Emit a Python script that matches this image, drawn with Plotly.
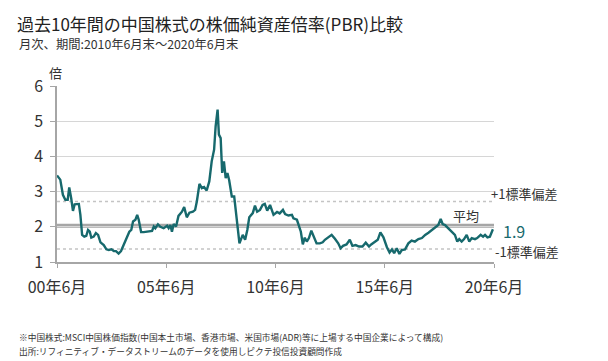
import plotly.graph_objects as go

# ---- data ----
years = [
    2000.50, 2000.65, 2000.77, 2000.88, 2000.99, 2001.06, 2001.15, 2001.23, 2001.31, 2001.42,
    2001.50, 2001.57, 2001.65, 2001.75, 2001.84, 2001.92, 2002.00, 2002.07, 2002.18, 2002.28,
    2002.38, 2002.49, 2002.64, 2002.76, 2002.87, 2002.99, 2003.10, 2003.20, 2003.32, 2003.43,
    2003.55, 2003.66, 2003.81, 2003.90, 2003.98, 2004.09, 2004.17, 2004.24, 2004.35, 2004.47,
    2004.62, 2004.77, 2004.85, 2004.93, 2005.00, 2005.12, 2005.23,
    2005.38, 2005.54, 2005.61, 2005.69, 2005.76, 2005.84, 2005.95, 2006.06, 2006.22, 2006.32,
    2006.44, 2006.56, 2006.72, 2006.82, 2006.90, 2007.02, 2007.13, 2007.23, 2007.35, 2007.47,
    2007.58, 2007.69, 2007.76, 2007.85, 2007.91, 2007.99, 2008.06, 2008.14, 2008.22, 2008.30,
    2008.38, 2008.50, 2008.61, 2008.73, 2008.85, 2009.00, 2009.11, 2009.21, 2009.30, 2009.46,
    2009.56, 2009.66, 2009.79, 2009.91, 2010.01, 2010.12, 2010.25,
    2010.41, 2010.57, 2010.69, 2010.84, 2010.94, 2011.09, 2011.25, 2011.32, 2011.48, 2011.59,
    2011.66, 2011.75, 2011.84, 2011.93, 2012.03, 2012.14, 2012.23, 2012.38, 2012.53, 2012.66,
    2012.76, 2012.91, 2013.07, 2013.22, 2013.37, 2013.48, 2013.59, 2013.75, 2013.90, 2014.02,
    2014.17, 2014.32, 2014.48, 2014.63, 2014.78, 2014.88, 2015.03, 2015.18, 2015.30,
    2015.44, 2015.60, 2015.72, 2015.83, 2015.93, 2016.05, 2016.17, 2016.28, 2016.43, 2016.58,
    2016.73, 2016.88, 2017.04, 2017.20, 2017.35, 2017.50, 2017.65, 2017.80, 2017.95, 2018.06,
    2018.15, 2018.26, 2018.41, 2018.56, 2018.71, 2018.82, 2018.91, 2019.02, 2019.13, 2019.25,
    2019.37, 2019.48, 2019.63, 2019.73, 2019.89, 2020.00, 2020.09, 2020.20, 2020.31, 2020.45,
]
pbr = [
    3.46, 3.34, 2.91, 2.77, 2.77, 3.12, 2.81, 2.45, 2.64, 2.65,
    2.65, 2.34, 1.77, 1.72, 1.74, 1.91, 1.86, 1.69, 1.72, 1.82,
    1.77, 1.56, 1.48, 1.36, 1.34, 1.36, 1.31, 1.31, 1.24, 1.31,
    1.48, 1.63, 1.86, 1.91, 2.15, 2.20, 2.34, 2.20, 1.85, 1.85,
    1.86, 1.86, 1.88, 2.01, 1.96, 2.07, 2.00,
    1.96, 2.03, 1.96, 2.05, 1.86, 2.08, 2.01, 2.31, 2.43, 2.56,
    2.27, 2.40, 2.43, 2.48, 2.72, 3.22, 3.10, 3.13, 3.03, 3.29,
    3.86, 4.19, 4.85, 5.33, 4.62, 4.52, 3.53, 3.86, 3.38, 3.53,
    3.32, 2.86, 2.86, 2.20, 1.53, 1.77, 1.63, 1.91, 2.27, 2.39,
    2.60, 2.43, 2.48, 2.62, 2.65, 2.46, 2.62,
    2.34, 2.42, 2.38, 2.48, 2.36, 2.32, 2.34, 2.24, 2.20, 2.01,
    1.86, 1.50, 1.69, 1.58, 1.68, 1.89, 1.77, 1.53, 1.53, 1.56,
    1.63, 1.69, 1.77, 1.66, 1.53, 1.39, 1.46, 1.50, 1.63, 1.46,
    1.48, 1.44, 1.44, 1.55, 1.44, 1.50, 1.56, 1.63, 1.84,
    1.70, 1.42, 1.27, 1.36, 1.25, 1.39, 1.23, 1.34, 1.36, 1.53,
    1.61, 1.58, 1.65, 1.68, 1.77, 1.83, 1.91, 1.99, 2.05, 2.22,
    2.08, 2.05, 1.96, 1.86, 1.77, 1.58, 1.65, 1.58, 1.65, 1.77,
    1.58, 1.68, 1.65, 1.68, 1.77, 1.72, 1.77, 1.70, 1.72, 1.93,
]
avg_value = 2.03
plus_sd = 2.72
minus_sd = 1.37
last_label = "1.9"

x_tickvals = [2000.5, 2005.5, 2010.5, 2015.5, 2020.5]
x_ticktext = ["00年6月", "05年6月", "10年6月", "15年6月", "20年6月"]
y_tickvals = [1, 2, 3, 4, 5, 6]

title_text = "過去10年間の中国株式の株価純資産倍率(PBR)比較"
subtitle_text = "月次、期間:2010年6月末～2020年6月末"
note1 = "※中国株式:MSCI中国株価指数(中国本土市場、香港市場、米国市場(ADR)等に上場する中国企業によって構成)"
note2 = "出所:リフィニティブ・データストリームのデータを使用しピクテ投信投資顧問作成"

# ---- styling ----
FONT = "Noto Sans CJK JP"
LINE_COLOR = "#17696d"
TEXT = "#333333"

W, H = 608, 361
L, R, T, B = 57, 114, 86, 99
pw, ph = W - L - R, H - T - B


def px(xp):
    return (xp - L) / pw


def py(yp):
    return (H - B - yp) / ph


fig = go.Figure()

fig.add_trace(go.Scatter(
    x=years, y=pbr, mode="lines",
    line=dict(color=LINE_COLOR, width=2.4),
    hoverinfo="skip", showlegend=False,
))

shapes = [
    dict(type="line", xref="paper", yref="y", x0=0, x1=1, y0=avg_value, y1=avg_value,
         line=dict(color="#a6a6a6", width=4), layer="below"),
    dict(type="line", xref="paper", yref="y", x0=0, x1=1, y0=plus_sd, y1=plus_sd,
         line=dict(color="#c4c4c4", width=1.5, dash="dot"), layer="below"),
    dict(type="line", xref="paper", yref="y", x0=0, x1=1, y0=minus_sd, y1=minus_sd,
         line=dict(color="#c4c4c4", width=1.5, dash="dot"), layer="below"),
]

annotations = [
    dict(text=subtitle_text, xref="paper", yref="paper", x=px(17), y=py(44),
         xanchor="left", yanchor="middle", showarrow=False,
         font=dict(family=FONT, size=12.3, color=TEXT)),
    dict(text="倍", xref="paper", yref="paper", x=px(55), y=py(73),
         xanchor="center", yanchor="middle", showarrow=False,
         font=dict(family=FONT, size=13, color=TEXT)),
    dict(text="+1標準偏差", xref="paper", yref="y", x=px(489), y=plus_sd,
         xanchor="left", yanchor="middle", yshift=8, showarrow=False,
         font=dict(family=FONT, size=13, color=TEXT)),
    dict(text="-1標準偏差", xref="paper", yref="y", x=px(493), y=minus_sd,
         xanchor="left", yanchor="middle", yshift=-3, showarrow=False,
         font=dict(family=FONT, size=13, color=TEXT)),
    dict(text="平均", xref="paper", yref="y", x=px(466), y=avg_value,
         xanchor="center", yanchor="bottom", yshift=-1, showarrow=False,
         font=dict(family=FONT, size=13, color=TEXT)),
    dict(text=last_label, xref="paper", yref="y", x=px(501), y=pbr[-1],
         xanchor="left", yanchor="middle", yshift=-2, height=16, showarrow=False,
         font=dict(family=FONT, size=16, color=LINE_COLOR)),
    dict(text=note1, xref="paper", yref="paper", x=px(17), y=py(337),
         xanchor="left", yanchor="middle", showarrow=False,
         font=dict(family=FONT, size=8.7, color=TEXT)),
    dict(text=note2, xref="paper", yref="paper", x=px(17), y=py(351),
         xanchor="left", yanchor="middle", showarrow=False,
         font=dict(family=FONT, size=8.7, color=TEXT)),
]

fig.update_layout(
    width=W, height=H,
    margin=dict(l=L, r=R, t=T, b=B, pad=0),
    paper_bgcolor="white", plot_bgcolor="white",
    title=dict(text=title_text, xref="container", yref="container",
               x=17 / W, y=1 - 25 / H, xanchor="left", yanchor="middle",
               font=dict(family=FONT, size=17, color="#222222")),
    shapes=shapes, annotations=annotations,
    showlegend=False,
)

fig.update_xaxes(
    range=[2000.5, 2020.5], tickvals=x_tickvals, ticktext=x_ticktext,
    showgrid=False, zeroline=False,
    showline=True, linecolor="#a6a6a6", linewidth=1.5,
    ticks="outside", ticklen=4, tickcolor="#a6a6a6", tickwidth=1.2,
    ticklabelstandoff=6,
    tickfont=dict(family=FONT, size=16, color=TEXT),
)
fig.update_yaxes(
    range=[1, 6], tickvals=y_tickvals,
    showgrid=True, gridcolor="#d6d6d6", gridwidth=1, zeroline=False,
    showline=True, linecolor="#a6a6a6", linewidth=1.5,
    ticks="outside", ticklen=5, tickcolor="#a6a6a6", tickwidth=1.2,
    ticklabelstandoff=4,
    tickfont=dict(family=FONT, size=16, color=TEXT),
)

fig.write_html("out.html", config={"displayModeBar": False},
               post_script="document.body.style.margin='0';")
